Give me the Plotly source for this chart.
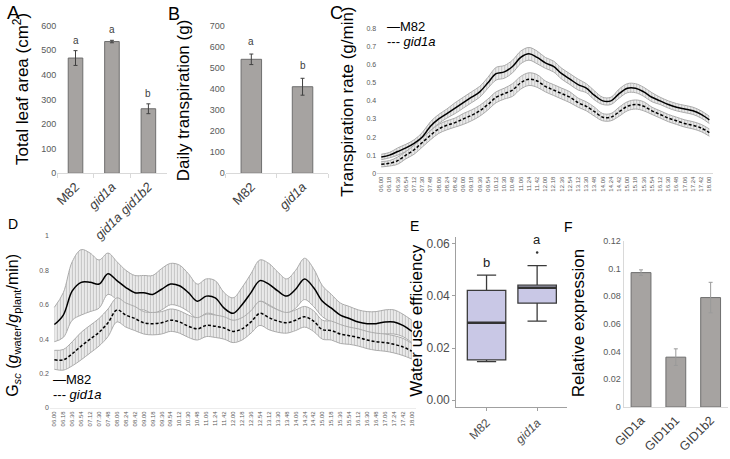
import plotly.graph_objects as go

# ---------------- data ----------------
A_cats = ["M82", "gid1a", "gid1a gid1b2"]
A_vals = [468, 535, 262]
A_err = [30, 5, 20]
A_letters = ["a", "a", "b"]

B_cats = ["M82", "gid1a"]
B_vals = [540, 410]
B_err = [25, 40]
B_letters = ["a", "b"]

times = ["06.00", "06.18", "06.36", "06.54", "07.12", "07.30", "07.48", "08.06", "08.24", "08.42",
         "09.00", "09.18", "09.36", "09.54", "10.12", "10.30", "10.48", "11.06", "11.24", "11.42",
         "12.00", "12.18", "12.36", "12.54", "13.12", "13.30", "13.48", "14.06", "14.24", "14.42",
         "15.00", "15.18", "15.36", "15.54", "16.12", "16.30", "16.48", "17.06", "17.24", "17.42",
         "18.00"]

C_m82 = [0.09, 0.10, 0.12, 0.14, 0.165, 0.20, 0.26, 0.30, 0.33, 0.36, 0.39, 0.42, 0.45, 0.50, 0.55,
         0.56, 0.59, 0.64, 0.66, 0.64, 0.61, 0.59, 0.55, 0.52, 0.49, 0.47, 0.43, 0.40, 0.40, 0.44,
         0.47, 0.47, 0.45, 0.42, 0.40, 0.38, 0.365, 0.355, 0.345, 0.325, 0.295]
C_m82_err = [0.015, 0.015, 0.02, 0.02, 0.02, 0.025, 0.025, 0.025, 0.025, 0.03, 0.03, 0.03, 0.03, 0.03,
             0.035, 0.035, 0.035, 0.035, 0.035, 0.035, 0.03, 0.03, 0.03, 0.03, 0.03, 0.025, 0.025,
             0.02, 0.02, 0.025, 0.025, 0.025, 0.025, 0.025, 0.02, 0.02, 0.02, 0.02, 0.02, 0.02, 0.02]
C_gid = [0.05, 0.055, 0.07, 0.10, 0.13, 0.17, 0.21, 0.245, 0.265, 0.28, 0.30, 0.32, 0.345, 0.38, 0.42,
         0.44, 0.46, 0.50, 0.52, 0.51, 0.48, 0.46, 0.44, 0.42, 0.39, 0.37, 0.34, 0.31, 0.31, 0.34,
         0.37, 0.38, 0.37, 0.345, 0.325, 0.305, 0.29, 0.275, 0.265, 0.25, 0.225]
C_gid_err = [0.015, 0.015, 0.02, 0.02, 0.025, 0.025, 0.025, 0.025, 0.025, 0.025, 0.03, 0.03, 0.03,
             0.03, 0.03, 0.03, 0.035, 0.035, 0.035, 0.035, 0.03, 0.03, 0.03, 0.03, 0.025, 0.025,
             0.025, 0.02, 0.02, 0.025, 0.025, 0.025, 0.025, 0.02, 0.02, 0.02, 0.02, 0.02, 0.02, 0.02,
             0.02]

D_m82 = [0.485, 0.54, 0.68, 0.73, 0.73, 0.72, 0.78, 0.74, 0.70, 0.67, 0.67, 0.66, 0.69, 0.72, 0.71,
         0.67, 0.62, 0.65, 0.64, 0.58, 0.55, 0.60, 0.67, 0.74, 0.72, 0.68, 0.65, 0.69, 0.75, 0.70,
         0.62, 0.58, 0.54, 0.52, 0.50, 0.49, 0.49, 0.50, 0.50, 0.48, 0.445]
D_m82_err = [0.10, 0.13, 0.17, 0.19, 0.17, 0.14, 0.12, 0.11, 0.10, 0.10, 0.10, 0.11, 0.12, 0.12, 0.12,
             0.11, 0.10, 0.10, 0.10, 0.09, 0.09, 0.10, 0.11, 0.12, 0.12, 0.11, 0.10, 0.11, 0.12, 0.11,
             0.09, 0.08, 0.07, 0.07, 0.07, 0.07, 0.07, 0.07, 0.07, 0.065, 0.065]
D_gid = [0.28, 0.28, 0.315, 0.36, 0.40, 0.44, 0.495, 0.57, 0.54, 0.52, 0.495, 0.49, 0.495, 0.51, 0.50,
         0.475, 0.46, 0.48, 0.475, 0.465, 0.445, 0.46, 0.50, 0.55, 0.525, 0.505, 0.495, 0.51, 0.53,
         0.505, 0.455, 0.45, 0.43, 0.42, 0.41, 0.395, 0.385, 0.38, 0.37, 0.355, 0.33]
D_gid_err = [0.055, 0.06, 0.07, 0.08, 0.08, 0.08, 0.08, 0.07, 0.07, 0.07, 0.065, 0.065, 0.065, 0.065,
             0.065, 0.065, 0.065, 0.065, 0.065, 0.065, 0.065, 0.065, 0.065, 0.07, 0.07, 0.065, 0.06,
             0.06, 0.06, 0.06, 0.055, 0.055, 0.055, 0.05, 0.05, 0.05, 0.05, 0.05, 0.05, 0.05, 0.045]

E_cats = ["M82", "gid1a"]
E_pos = [1, 2]
E_q1 = [0.0155, 0.0372]
E_median = [0.0297, 0.0431]
E_q3 = [0.0421, 0.0441]
E_low = [0.0148, 0.0303]
E_high = [0.0479, 0.0516]
E_outlier = [None, 0.0566]
E_letters = ["b", "a"]

F_cats = ["GID1a", "GID1b1", "GID1b2"]
F_vals = [0.097, 0.036, 0.079]
F_err = [0.002, 0.006, 0.011]

# ---------------- layout helpers ----------------
W, H = 730, 459
def px(p): return p / W
def py(p): return 1 - p / H

FONT = "Liberation Sans, Arial, sans-serif"
BAR_FILL = "#a6a3a1"
BAR_LINE = "#6e6e6e"
GRID = "#d9d9d9"
TICK = "#595959"

fig = go.Figure()

# ---- Panel A ----
fig.add_trace(go.Bar(x=A_cats, y=A_vals, width=0.4, marker=dict(color=BAR_FILL, line=dict(color=BAR_LINE, width=1)),
                     error_y=dict(type="data", array=A_err, color="#404040", thickness=1, width=2),
                     xaxis="x", yaxis="y", showlegend=False))
# ---- Panel B ----
fig.add_trace(go.Bar(x=B_cats, y=B_vals, width=0.4, marker=dict(color=BAR_FILL, line=dict(color=BAR_LINE, width=1)),
                     error_y=dict(type="data", array=B_err, color="#404040", thickness=1, width=2),
                     xaxis="x2", yaxis="y2", showlegend=False))

# ---- Panels C / D bands & lines ----
def band(means, errs, xa, ya):
    lo = [m - e for m, e in zip(means, errs)]
    hi = [m + e for m, e in zip(means, errs)]
    fig.add_trace(go.Scatter(x=times, y=lo, mode="lines", line=dict(color="#aaaaaa", width=1, shape="spline"),
                             xaxis=xa, yaxis=ya, showlegend=False, hoverinfo="skip"))
    fig.add_trace(go.Scatter(x=times, y=hi, mode="lines", line=dict(color="#aaaaaa", width=1, shape="spline"),
                             fill="tonexty", fillcolor="rgba(0,0,0,0)",
                             fillpattern=dict(shape="|", fgcolor="#999999", bgcolor="#eeeeee", size=3, solidity=0.4),
                             xaxis=xa, yaxis=ya, showlegend=False, hoverinfo="skip"))

band(C_m82, C_m82_err, "x3", "y3")
band(C_gid, C_gid_err, "x3", "y3")
fig.add_trace(go.Scatter(x=times, y=C_m82, mode="lines", line=dict(color="black", width=1.5, shape="spline"),
                         xaxis="x3", yaxis="y3", showlegend=False))
fig.add_trace(go.Scatter(x=times, y=C_gid, mode="lines", line=dict(color="black", width=1.5, dash="3px,2px", shape="spline"),
                         xaxis="x3", yaxis="y3", showlegend=False))

band(D_m82, D_m82_err, "x4", "y4")
band(D_gid, D_gid_err, "x4", "y4")
fig.add_trace(go.Scatter(x=times, y=D_m82, mode="lines", line=dict(color="black", width=1.5, shape="spline"),
                         xaxis="x4", yaxis="y4", showlegend=False))
fig.add_trace(go.Scatter(x=times, y=D_gid, mode="lines", line=dict(color="black", width=1.5, dash="3px,2px", shape="spline"),
                         xaxis="x4", yaxis="y4", showlegend=False))

# ---- Panel E ----
BOXW = 0.76
for i in range(2):
    fig.add_trace(go.Box(x=[E_pos[i]], q1=[E_q1[i]], median=[E_median[i]], q3=[E_q3[i]],
                         lowerfence=[E_low[i]], upperfence=[E_high[i]], width=BOXW,
                         fillcolor="#c9c8e6", line=dict(color="#3a3a3a", width=1.3),
                         boxpoints=False, xaxis="x5", yaxis="y5", showlegend=False))
    fig.add_trace(go.Scatter(x=[E_pos[i] - BOXW / 2, E_pos[i] + BOXW / 2], y=[E_median[i], E_median[i]],
                             mode="lines", line=dict(color="#333333", width=2.6),
                             xaxis="x5", yaxis="y5", showlegend=False))
fig.add_trace(go.Scatter(x=E_pos, y=E_outlier, mode="markers", marker=dict(color="#333333", size=2.5),
                         xaxis="x5", yaxis="y5", showlegend=False))

# ---- Panel F ----
fig.add_trace(go.Bar(x=F_cats, y=F_vals, width=0.57, marker=dict(color=BAR_FILL, line=dict(color=BAR_LINE, width=1)),
                     error_y=dict(type="data", array=F_err, color="#9a9a9a", thickness=1, width=2),
                     xaxis="x6", yaxis="y6", showlegend=False))

# ---------------- axes ----------------
small = dict(family=FONT, size=9, color=TICK)
lay = dict(
    width=W, height=H, margin=dict(l=0, r=0, t=0, b=0),
    paper_bgcolor="white", plot_bgcolor="white", font=dict(family=FONT),
    bargap=0.6,
    # A
    xaxis=dict(domain=[px(47), px(158)], anchor="y", type="category", tickangle=-45,
               tickvals=A_cats, ticktext=["M82", "<i>gid1a</i>", "<i>gid1a gid1b2</i>"],
               tickfont=dict(family=FONT, size=13, color="#404040"), showline=True, linecolor=GRID,
               ticks="outside", tickson="boundaries", ticklen=4, tickcolor=GRID, showgrid=False),
    yaxis=dict(domain=[py(172), py(21)], anchor="x", range=[0, 600], dtick=100, showgrid=False,
               showline=False, zeroline=False, tickfont=small, ticks=""),
    # B
    xaxis2=dict(domain=[px(218), px(322)], anchor="y2", type="category", tickangle=-45,
                tickvals=B_cats, ticktext=["M82", "<i>gid1a</i>"],
                tickfont=dict(family=FONT, size=13, color="#404040"), showline=True, linecolor=GRID,
                ticks="outside", tickson="boundaries", ticklen=4, tickcolor=GRID, showgrid=False),
    yaxis2=dict(domain=[py(172), py(21)], anchor="x2", range=[0, 700], dtick=100, showgrid=False,
                showline=False, zeroline=False, tickfont=small, ticks=""),
    # C
    xaxis3=dict(domain=[px(371.8), px(713.2)], anchor="y3", type="category", range=[-0.5, 40.5],
                tickvals=times, ticktext=times, tickangle=-90,
                tickfont=dict(family=FONT, size=6, color=TICK), showline=True, linecolor=GRID,
                ticks="", showgrid=False),
    yaxis3=dict(domain=[py(172), py(24)], anchor="x3", range=[0, 0.8], dtick=0.1, showgrid=False,
                showline=False, zeroline=False, tickfont=dict(family=FONT, size=7, color=TICK), ticks=""),
    # D
    xaxis4=dict(domain=[px(39.5), px(411.5)], anchor="y4", type="category", range=[-0.5, 40.5],
                tickvals=times, ticktext=times, tickangle=-90,
                tickfont=dict(family=FONT, size=6, color=TICK), showline=True, linecolor="#ececec",
                ticks="", showgrid=False),
    yaxis4=dict(domain=[py(412), py(236)], anchor="x4", range=[0, 1], dtick=0.2, showgrid=False,
                showline=False, zeroline=False, tickfont=dict(family=FONT, size=7, color=TICK), ticks=""),
    # E
    xaxis5=dict(domain=[px(452), px(565)], anchor="y5", range=[0.4, 2.6], tickvals=E_pos,
                ticktext=["M82", "<i>gid1a</i>"], tickangle=-45,
                tickfont=dict(family=FONT, size=12, color="#4d4d4d"), showline=True, linecolor="#a0a0a0",
                ticks="outside", ticklen=3, tickcolor="#a0a0a0", showgrid=False, zeroline=False),
    yaxis5=dict(domain=[py(411), py(237)], anchor="x5", range=[-0.0026, 0.0626], tickvals=[0, 0.02, 0.04, 0.06],
                ticktext=["0.00", "0.02", "0.04", "0.06"], showline=True, linecolor="#a0a0a0",
                ticks="outside", ticklen=3, tickcolor="#a0a0a0", showgrid=False, zeroline=False,
                tickfont=dict(family=FONT, size=12, color="#4d4d4d")),
    # F
    xaxis6=dict(domain=[px(622), px(728)], anchor="y6", type="category", tickangle=-45,
                tickfont=dict(family=FONT, size=12.5, color="#404040"), showline=True, linecolor=GRID,
                ticks="", showgrid=False),
    yaxis6=dict(domain=[py(411), py(241)], anchor="x6", range=[0, 0.12], tickvals=[0, 0.02, 0.04, 0.06, 0.08, 0.1, 0.12],
                ticktext=["0", "0.02", "0.04", "0.06", "0.08", "0.1", "0.12"], showgrid=False,
                showline=True, linecolor=GRID, zeroline=False, tickfont=small, ticks=""),
)
fig.update_layout(**lay)

ann = []
def label(x, y, t, size):
    ann.append(dict(x=px(x), y=py(y), xref="paper", yref="paper", text=t, showarrow=False,
                    xanchor="left", yanchor="top", font=dict(family=FONT, size=size, color="black")))
label(-6, -5, "A", 19); label(157, -3, "B", 18); label(322, -4, "C", 18)
label(-5, 214, "D", 14); label(403, 216, "E", 14); label(559, 217, "F", 14)

def ytitle(x, y, t, size=17):
    ann.append(dict(x=px(x), y=py(y), xref="paper", yref="paper", text=t, showarrow=False, textangle=-90,
                    xanchor="center", yanchor="middle", font=dict(family=FONT, size=size, color="black")))
ytitle(10, 86, "Total leaf area (cm<sup>2</sup>)")
ytitle(176, 97, "Daily transpiration (g)")
ytitle(342, 99, "Transpiration rate (g/min)")
ytitle(3, 327, "G<sub><i>sc</i></sub> (<i>g</i><sub>water</sub>/<i>g</i><sub>plant</sub>/min)", 16)
ytitle(412, 322, "Water use efficiency")
ytitle(577, 325, "Relative expression")

# significance letters
for c, v, e, l in zip(A_cats, A_vals, A_err, A_letters):
    ann.append(dict(x=c, y=v + e, xref="x", yref="y", text=l, showarrow=False, yanchor="bottom", yshift=3,
                    font=dict(family=FONT, size=10, color="#404040")))
for c, v, e, l in zip(B_cats, B_vals, B_err, B_letters):
    ann.append(dict(x=c, y=v + e, xref="x2", yref="y2", text=l, showarrow=False, yanchor="bottom", yshift=5,
                    font=dict(family=FONT, size=10, color="#404040")))
for p, hgh, o, l in zip(E_pos, E_high, E_outlier, E_letters):
    top = hgh if o is None else max(hgh, o)
    ann.append(dict(x=p, y=top, xref="x5", yref="y5", text=l, showarrow=False, yanchor="bottom", yshift=3,
                    font=dict(family=FONT, size=13, color="#222222")))

# legends (text style, as in the reference)
def leg(x, y, t):
    ann.append(dict(x=px(x), y=py(y), xref="paper", yref="paper", text=t, showarrow=False,
                    xanchor="left", yanchor="middle", font=dict(family=FONT, size=13, color="black")))
leg(380, 22, "\u2014M82"); leg(380, 37, "--- <i>gid1a</i>")
leg(41, 383, "\u2014M82"); leg(41, 398, "--- <i>gid1a</i>")

fig.update_layout(annotations=ann)
fig.write_html("out.html", config={"displayModeBar": False},
               post_script="document.body.style.margin='0';")
